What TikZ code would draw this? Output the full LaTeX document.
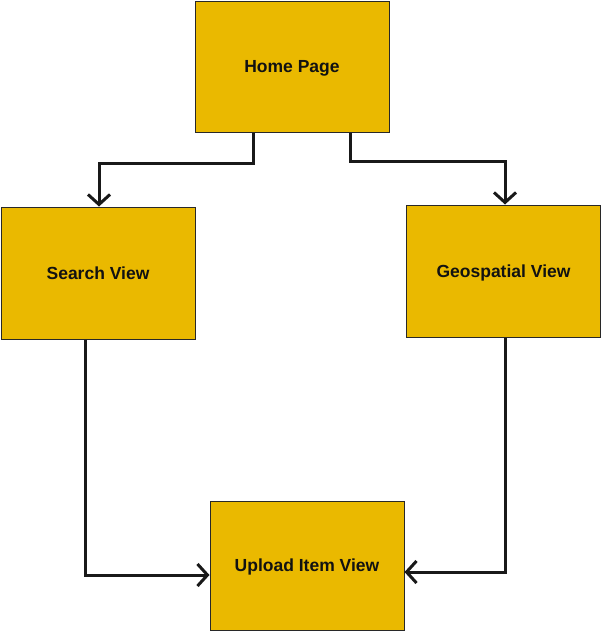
\documentclass[tikz,border=0pt]{standalone}
\usepackage{fontspec}
\setmainfont{Liberation Sans}
\usetikzlibrary{arrows.meta}
\definecolor{boxgold}{RGB}{234,185,0}
\definecolor{boxline}{RGB}{40,40,40}

\begin{document}
\begin{tikzpicture}[x=1pt, y=-1pt,
  viewbox/.style={draw=boxline, line width=1pt, fill=boxgold, minimum width=194pt, minimum height=131pt, inner sep=0pt, text height=12.5pt, text depth=0pt, font=\fontsize{17.5}{20}\selectfont\bfseries, text=black!93},
  link/.style={line width=3pt, color=black!90, line join=miter},
  tip/.style={-{Straight Barb[length=10pt, width=22pt]}}]
\useasboundingbox (0,0) rectangle (601,632);
%boxes:
\node[viewbox] (home) at (292,66.5) {Home Page};
\node[viewbox, minimum height=132pt] (search) at (98,273) {Search View};
\node[viewbox, minimum height=132pt] (geo) at (503.5,271) {Geospatial View};
\node[viewbox, minimum height=129pt] (upload) at (307,565.5) {Upload Item View};

%bends:
\coordinate (hs) at (253,163);
\coordinate (hg) at (350,161);
\coordinate (su) at (85,575);
\coordinate (gu) at (505,572);

%connectors:
\draw[link, tip] (home.south -| hs) -- (hs) -| ([xshift=1pt]search.north);
\draw[link, tip] (home.south -| hg) -- (hg) -| ([xshift=1.5pt]geo.north);
\draw[link, tip] (search.south -| su) -- (su) -- (upload.west |- su);
\draw[link, tip] (geo.south -| gu) -- (gu) -- (upload.east |- gu);
\end{tikzpicture}
\end{document}
